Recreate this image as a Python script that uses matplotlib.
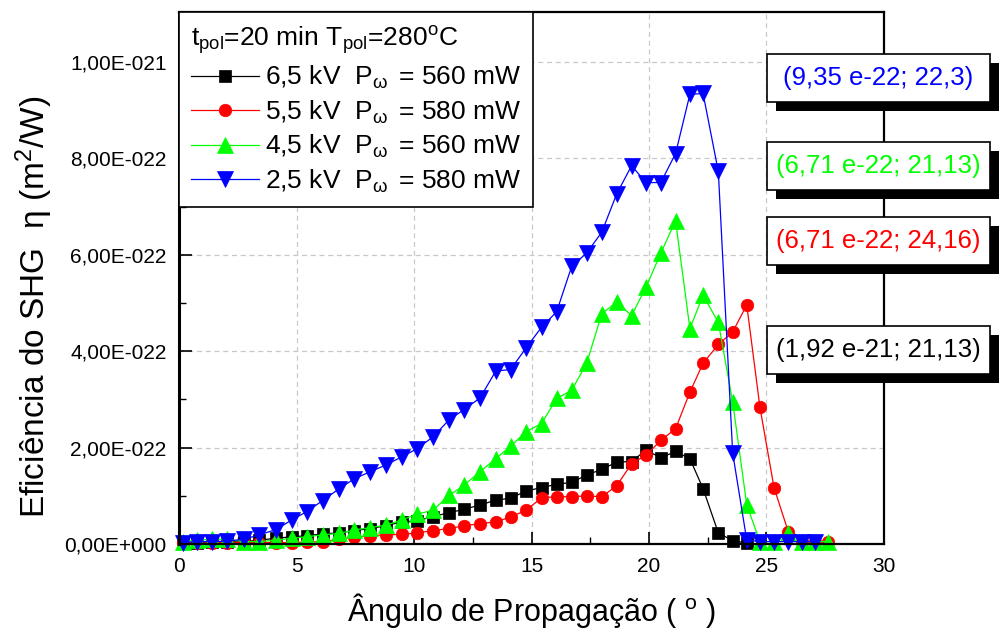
import numpy as np
import matplotlib
matplotlib.use("Agg")
import matplotlib.pyplot as plt
from matplotlib.patches import Rectangle
from matplotlib.ticker import FixedLocator, MultipleLocator, FuncFormatter

plt.rcParams["font.family"] = ["Liberation Sans", "DejaVu Sans"]
plt.rcParams["mathtext.fontset"] = "custom"
plt.rcParams["mathtext.rm"] = "Liberation Sans"
plt.rcParams["mathtext.it"] = "Liberation Sans:italic"
plt.rcParams["mathtext.bf"] = "Liberation Sans:bold"

# Propagation angle (degrees), shared by all series
angle = [0.16, 0.75, 1.39, 2.06, 2.77, 3.42, 4.13, 4.80, 5.43, 6.11, 6.82,
         7.45, 8.13, 8.81, 9.48, 10.14, 10.80, 11.50, 12.13, 12.81, 13.48,
         14.11, 14.77, 15.43, 16.07, 16.71, 17.35, 17.99, 18.63, 19.26,
         19.87, 20.50, 21.13, 21.74, 22.30, 22.95, 23.56, 24.16, 24.72,
         25.32, 25.93, 26.50, 27.06, 27.63]

# SHG efficiency, in units of 1e-22 m^2/W
eff_65kV = [0.02, 0.03, 0.04, 0.04, 0.05, 0.08, 0.12, 0.15, 0.17, 0.21, 0.23,
            0.28, 0.32, 0.38, 0.46, 0.48, 0.57, 0.65, 0.72, 0.81, 0.91,
            0.95, 1.10, 1.17, 1.24, 1.28, 1.43, 1.55, 1.70, 1.71,
            1.95, 1.79, 1.92, 1.77, 1.15, 0.23, 0.07, 0.02]
eff_55kV = [0.02, 0.02, 0.03, 0.03, 0.03, 0.03, 0.03, 0.03, 0.04, 0.05, 0.10,
            0.14, 0.17, 0.19, 0.20, 0.23, 0.28, 0.32, 0.38, 0.42, 0.46,
            0.56, 0.70, 0.96, 0.98, 0.98, 1.00, 0.98, 1.21, 1.67,
            1.84, 2.15, 2.39, 3.15, 3.75, 4.14, 4.40, 4.96, 2.84,
            1.17, 0.25, 0.05, 0.05, 0.05]
eff_45kV = [0.05, 0.08, 0.10, 0.10, 0.05, 0.05, 0.08, 0.12, 0.15, 0.19, 0.22,
            0.29, 0.34, 0.39, 0.50, 0.62, 0.70, 1.01, 1.22, 1.50, 1.77,
            2.03, 2.33, 2.50, 3.02, 3.19, 3.75, 4.78, 5.02, 4.74,
            5.33, 6.03, 6.71, 4.47, 5.16, 4.60, 2.95, 0.81, 0.05,
            0.05, 0.22, 0.05, 0.05, 0.05]
eff_25kV = [0.03, 0.05, 0.05, 0.06, 0.10, 0.19, 0.30, 0.50, 0.67, 0.90, 1.15,
            1.35, 1.50, 1.64, 1.81, 1.98, 2.22, 2.58, 2.79, 3.03, 3.59,
            3.62, 4.07, 4.50, 4.82, 5.76, 6.04, 6.47, 7.27, 7.85,
            7.50, 7.50, 8.10, 9.33, 9.35, 7.73, 1.89, 0.08, 0.05,
            0.05, 0.05, 0.05, 0.05]

series_labels = [r"6,5 kV  P$_{\mathrm{ω}}\,$ = 560 mW",
                 r"5,5 kV  P$_{\mathrm{ω}}\,$ = 580 mW",
                 r"4,5 kV  P$_{\mathrm{ω}}\,$ = 560 mW",
                 r"2,5 kV  P$_{\mathrm{ω}}\,$ = 580 mW"]
legend_title = r"t$_{\mathrm{pol}}$=20 min T$_{\mathrm{pol}}$=280$^{\mathrm{o}}$C"

peak_labels = ["(9,35 e-22; 22,3)", "(6,71 e-22; 21,13)",
               "(6,71 e-22; 24,16)", "(1,92 e-21; 21,13)"]

x_major = [0, 5, 10, 15, 20, 25, 30]
y_major = [0, 2, 4, 6, 8, 10]

UNIT = 1e-22

fig = plt.figure(figsize=(10, 6.3), dpi=100)
ax = fig.add_axes([0.179, 0.1365, 0.705, 0.8445])

styles = [
    dict(color="#000000", marker="s", ms=8),
    dict(color="#ff0000", marker="o", ms=9),
    dict(color="#00ff00", marker="^", ms=11),
    dict(color="#0000ff", marker="v", ms=11),
]
for vals, lab, st in zip([eff_65kV, eff_55kV, eff_45kV, eff_25kV],
                         series_labels, styles):
    x = angle[:len(vals)]
    y = np.array(vals) * UNIT
    ax.plot(x, y, color=st["color"], lw=0.9, marker=st["marker"],
            ms=st["ms"], mec=st["color"], mfc=st["color"], mew=0.5,
            label=lab, clip_on=False)

ax.set_xlim(0, 30)
ax.set_ylim(0, 11.04 * UNIT)
ax.xaxis.set_major_locator(FixedLocator(x_major))
ax.xaxis.set_minor_locator(MultipleLocator(2.5))
ax.yaxis.set_major_locator(FixedLocator([v * UNIT for v in y_major]))
ax.yaxis.set_minor_locator(MultipleLocator(1 * UNIT))


def origin_sci(v, pos):
    if abs(v) < 1e-40:
        return "0,00E+000"
    e = int(np.floor(np.log10(abs(v)) + 1e-9))
    m = v / 10.0 ** e
    return f"{m:.2f}".replace(".", ",") + f"E{e:+04d}"


ax.yaxis.set_major_formatter(FuncFormatter(origin_sci))
ax.xaxis.set_major_formatter(FuncFormatter(lambda v, p: f"{v:g}"))

ax.tick_params(which="both", direction="in", top=False, right=False)
ax.tick_params(which="major", length=9, width=1.2, labelsize=15, pad=9)
ax.tick_params(which="minor", length=5, width=1.0)

ax.grid(False, which="minor")
ax.grid(True, which="major", color="#c8c8c8", ls=(0, (4, 3)), lw=0.9)
ax.set_axisbelow(True)
for side in ["left", "bottom", "top", "right"]:
    ax.spines[side].set_linewidth(1.6)
ax.spines["left"].set_linewidth(2.2)

ax.set_xlabel(r"Ângulo de Propagação ( $^{\mathrm{o}}$ )", fontsize=22)
ax.xaxis.set_label_coords(0.5, -0.088)
ax.set_ylabel(r"Eficiência do SHG  η (m$^{\mathrm{2}}$/W)", fontsize=24)
ax.yaxis.set_label_coords(-0.176, 0.445)

leg = ax.legend(loc="upper left", bbox_to_anchor=(0, 1), borderaxespad=0,
                title=legend_title, title_fontsize=19, fontsize=19,
                frameon=True, fancybox=False, framealpha=1,
                edgecolor="black", handlelength=2.6, handletextpad=0.2,
                labelspacing=0.28, borderpad=0.45, alignment="left")
leg.get_frame().set_linewidth(1.2)

# Peak annotation boxes with drop shadows, drawn at figure level
W, H = 1000.0, 630.0
box_tops = [54, 142, 217, 326]
box_colors = ["#0000ff", "#00ff00", "#ff0000", "#000000"]
bx0, bw, bh, sh = 767, 223, 48, 9
for top, txt, col in zip(box_tops, peak_labels, box_colors):
    y0 = (H - top - bh) / H
    fig.add_artist(Rectangle(((bx0 + sh) / W, y0 - sh / H), bw / W, bh / H,
                             transform=fig.transFigure, facecolor="black",
                             edgecolor="none", zorder=5))
    fig.add_artist(Rectangle((bx0 / W, y0), bw / W, bh / H,
                             transform=fig.transFigure, facecolor="white",
                             edgecolor="black", lw=1.2, zorder=6))
    fig.text((bx0 + bw / 2) / W, y0 + bh / 2 / H, txt, color=col,
             fontsize=18.5, ha="center", va="center", zorder=7)

fig.savefig("out.png", dpi=100)
